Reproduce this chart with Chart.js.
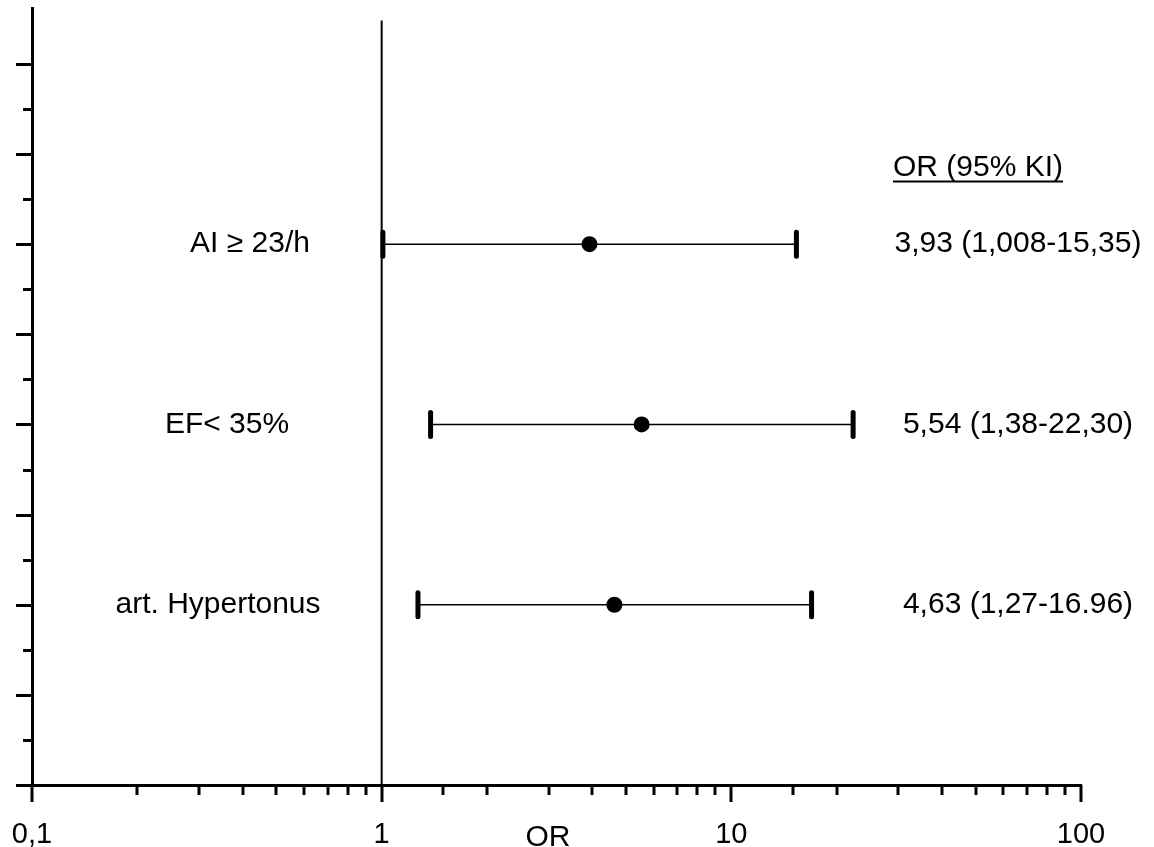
<!DOCTYPE html>
<html>
<head>
<meta charset="utf-8">
<script src="https://cdn.jsdelivr.net/npm/chart.js@4.4.0/dist/chart.umd.min.js"></script>
<style>
  html, body { margin: 0; padding: 0; background: #fff; }
  #wrap { width: 1154px; height: 847px; }
</style>
</head>
<body>
<div id="wrap"><canvas id="forest" width="1154" height="847"></canvas></div>
<script>
// Forest plot - odds ratios with 95% CI

const categories = ['AI ≥ 23/h', 'EF< 35%', 'art. Hypertonus'];
const rowPositions = [6, 4, 2];
const oddsRatios = [3.93, 5.54, 4.63];
const ciLower = [1.008, 1.38, 1.27];
const ciUpper = [15.35, 22.30, 16.96];
const ciLabels = ['3,93 (1,008-15,35)', '5,54 (1,38-22,30)', '4,63 (1,27-16.96)'];
const ciHeader = 'OR (95% KI)';
const headerRow = 6.85;
const xTickValues = [0.1, 1, 10, 100];
const xTickLabels = ['0,1', '1', '10', '100'];
const xTitle = 'OR';
const refLineX = [1, 1];
const refLineY = [0, 8.48];

// layout (pixels)
const FAMILY = '"Liberation Sans", Arial, sans-serif';
const FONT = '30px ' + FAMILY;
const categoryCenterX = [250, 227, 218];
const ciCenterX = 1018;
const headerLeftX = 893;
const titleCenterX = 548;

function isPow10(v) {
    const l = Math.log10(v);
    return Math.abs(l - Math.round(l)) < 1e-6;
}

const forestDecor = {
    id: 'forestDecor',
    beforeDatasetsDraw(chart) {
        chart.ctx.lineCap = 'round';
    },
    afterDraw(chart) {
        const ctx = chart.ctx;
        const xs = chart.scales.x;
        const ys = chart.scales.y;
        const area = chart.chartArea;

        ctx.save();
        ctx.strokeStyle = '#000';
        ctx.fillStyle = '#000';
        ctx.lineWidth = 3;
        ctx.lineCap = 'butt';

        // x tick marks (major longer)
        xs.ticks.forEach(t => {
            const px = Math.round(xs.getPixelForValue(t.value));
            ctx.beginPath();
            ctx.moveTo(px, area.bottom);
            ctx.lineTo(px, area.bottom + (isPow10(t.value) ? 17 : 10));
            ctx.stroke();
        });

        // y tick marks
        ys.ticks.forEach(t => {
            if (Math.abs(t.value * 2 - Math.round(t.value * 2)) > 1e-6) return;
            const py = Math.round(ys.getPixelForValue(t.value)) + 0.5;
            const major = Math.abs(t.value - Math.round(t.value)) < 1e-6;
            ctx.beginPath();
            ctx.moveTo(area.left, py);
            ctx.lineTo(area.left - (major ? 16 : 9), py);
            ctx.stroke();
        });

        ctx.font = FONT;
        ctx.textBaseline = 'middle';

        // category labels
        ctx.textAlign = 'center';
        categories.forEach((c, i) => {
            ctx.fillText(c, categoryCenterX[i], ys.getPixelForValue(rowPositions[i]));
        });

        // OR (CI) labels
        ciLabels.forEach((c, i) => {
            ctx.fillText(c, ciCenterX, ys.getPixelForValue(rowPositions[i]));
        });

        // header, underlined
        ctx.textAlign = 'left';
        const hy = ys.getPixelForValue(headerRow);
        ctx.fillText(ciHeader, headerLeftX, hy);
        const w = ctx.measureText(ciHeader).width;
        ctx.lineWidth = 2;
        ctx.beginPath();
        ctx.moveTo(headerLeftX, hy + 14);
        ctx.lineTo(headerLeftX + w, hy + 14);
        ctx.stroke();

        // x axis title
        ctx.textAlign = 'center';
        ctx.fillText(xTitle, titleCenterX, area.bottom + 53);

        ctx.restore();
    }
};

const datasets = [];

// OR point estimates
datasets.push({
    label: 'OR',
    data: oddsRatios.map((v, i) => ({ x: v, y: rowPositions[i] })),
    showLine: false,
    pointStyle: 'circle',
    pointRadius: 8,
    pointBackgroundColor: '#000',
    pointBorderWidth: 0
});

// confidence intervals with end caps
categories.forEach((c, i) => {
    datasets.push({
        label: c,
        data: [{ x: ciLower[i], y: rowPositions[i] }, { x: ciUpper[i], y: rowPositions[i] }],
        showLine: true,
        borderColor: '#000',
        borderWidth: 1.5,
        pointStyle: 'line',
        rotation: 90,
        pointRadius: 12,
        pointBorderWidth: 5,
        pointBorderColor: '#000'
    });
});

// reference line at OR = 1
datasets.push({
    label: 'ref',
    data: refLineX.map((v, i) => ({ x: v, y: refLineY[i] })),
    showLine: true,
    borderColor: '#000',
    borderWidth: 2,
    pointRadius: 0
});

new Chart(document.getElementById('forest'), {
    type: 'scatter',
    data: { datasets: datasets },
    options: {
        responsive: false,
        animation: false,
        events: [],
        layout: { autoPadding: false, padding: { top: 8, right: 73, left: 0, bottom: 0 } },
        plugins: {
            legend: { display: false },
            tooltip: { enabled: false }
        },
        elements: { point: { hitRadius: 0 } },
        datasets: { scatter: { clip: false } },
        scales: {
            x: {
                type: 'logarithmic',
                min: 0.1,
                max: 100,
                afterFit: scale => {
                    scale.height = 62;
                    scale.paddingLeft = 0;
                    scale.paddingRight = 0;
                },
                border: { display: true, color: '#000', width: 3 },
                grid: { display: false, drawTicks: false },
                ticks: {
                    autoSkip: false,
                    maxRotation: 0,
                    padding: 33,
                    color: '#000',
                    font: { family: FAMILY, size: 29 },
                    callback: value => {
                        const idx = xTickValues.findIndex(v => Math.abs(v - value) / v < 1e-6);
                        return idx >= 0 ? xTickLabels[idx] : '';
                    }
                }
            },
            y: {
                type: 'linear',
                min: 0,
                max: 8.62,
                afterFit: scale => {
                    scale.width = 32;
                    scale.paddingTop = 0;
                    scale.paddingBottom = 0;
                },
                border: { display: true, color: '#000', width: 3 },
                grid: { display: false, drawTicks: false },
                ticks: { display: false, stepSize: 0.5 }
            }
        }
    },
    plugins: [forestDecor]
});
</script>
</body>
</html>
